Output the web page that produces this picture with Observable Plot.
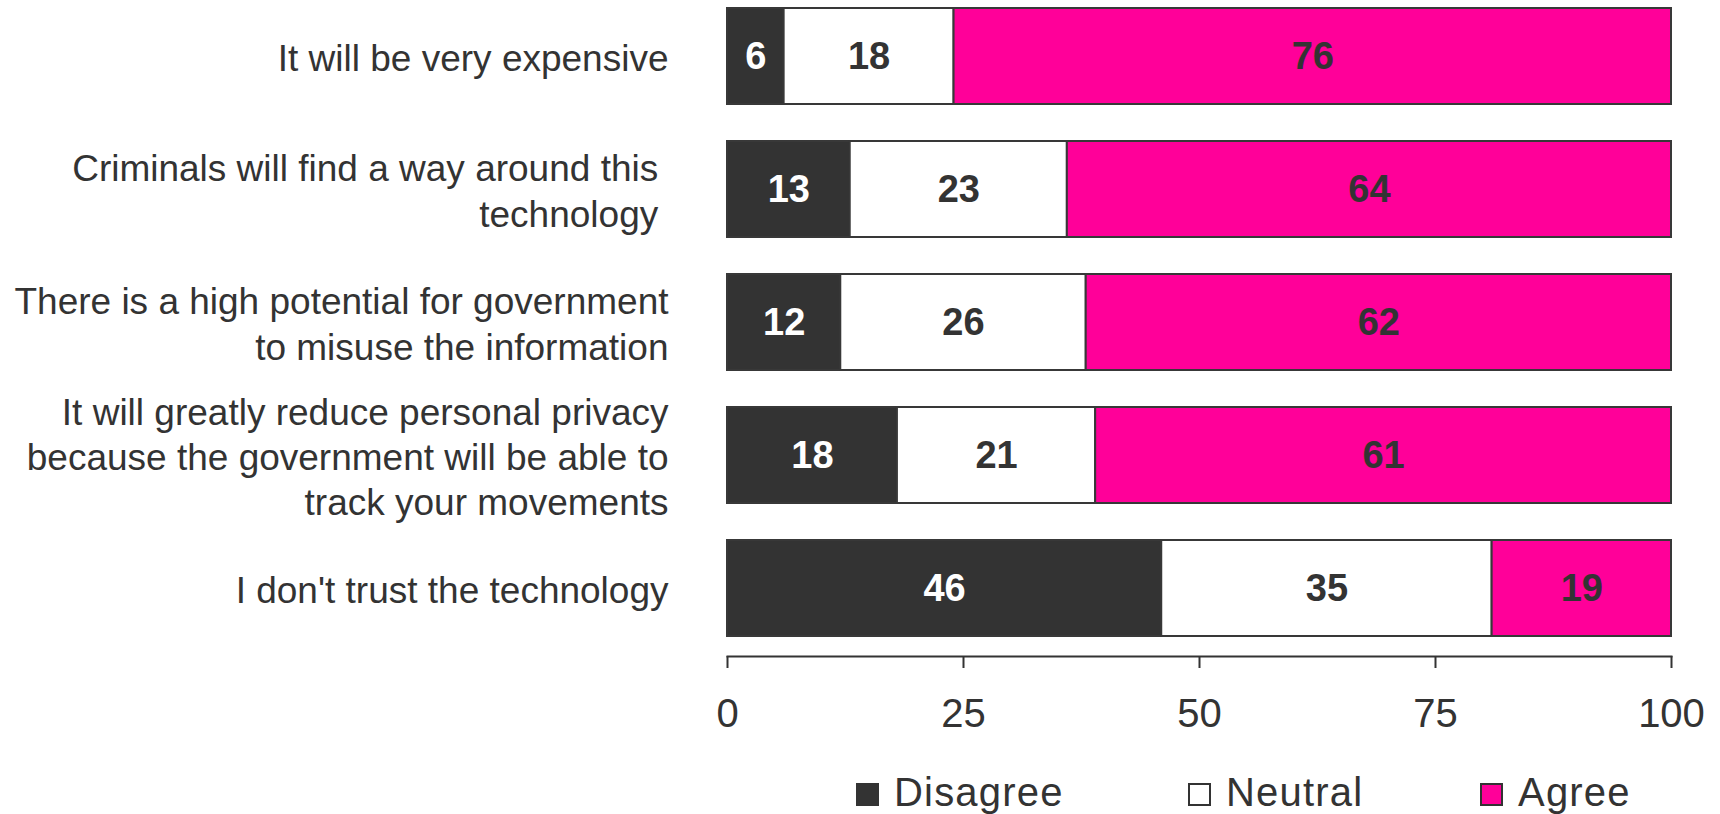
<!DOCTYPE html>
<html>
<head>
<meta charset="utf-8">
<script src="https://cdn.jsdelivr.net/npm/d3@7"></script>
<script src="https://cdn.jsdelivr.net/npm/@observablehq/plot@0.6"></script>
<style>
  html, body { margin: 0; padding: 0; background: #fff; }
  body { font-family: "Liberation Sans", Arial, sans-serif; color: #333; }
  #wrap { position: relative; width: 1720px; height: 814px; }
  #legend { position: absolute; left: 0; top: 770px; width: 1720px; height: 44px; }
  .item { position: absolute; top: 0; height: 44px; display: flex; align-items: center; font-size: 40px; letter-spacing: 1.2px; color: #333; }
  .sw { width: 23px; height: 23px; box-sizing: border-box; border: 2px solid #333; margin-right: 15px; margin-top: 4px; }
</style>
</head>
<body>
<div id="wrap">
  <div id="chart"></div>
  <div id="legend"></div>
</div>
<script>
const categories = [
  "It will be very expensive",
  "Criminals will find a way around this\u00a0\ntechnology\u00a0",
  "There is a high potential for government\nto misuse the information",
  "It will greatly reduce personal privacy\nbecause the government will be able to\ntrack your movements",
  "I don't trust the technology"
];
const responses = ["Disagree", "Neutral", "Agree"];
const disagree = [6, 13, 12, 18, 46];
const neutral  = [18, 23, 26, 21, 35];
const agree    = [76, 64, 62, 61, 19];
const colors = ["#333333", "#ffffff", "#ff0099"];
const xTicks = [0, 25, 50, 75, 100];
const legendLeft = [856, 1188, 1480];

const series = [disagree, neutral, agree];
const data = [];
categories.forEach((c, i) => {
  responses.forEach((r, j) => data.push({category: c, response: r, value: series[j][i]}));
});

const chart = Plot.plot({
  width: 1720,
  height: 770,
  marginLeft: 727,
  marginRight: 49,
  marginTop: 1,
  marginBottom: 114,
  style: {fontFamily: '"Liberation Sans", Arial, sans-serif', color: "#333", background: "white"},
  x: {domain: [0, 100]},
  y: {domain: categories, paddingInner: 0.275, paddingOuter: 0.098, align: 0.257},
  color: {domain: responses, range: colors},
  marks: [
    Plot.barX(data, Plot.stackX({x: "value", y: "category", fill: "response", z: "response", order: responses, stroke: "#383838", strokeWidth: 2})),
    Plot.text(data, Plot.stackX({x: "value", y: "category", z: "response", order: responses, text: d => String(d.value),
      fill: d => d.response === "Disagree" ? "#ffffff" : "#333333", fontSize: 38, fontWeight: "bold"})),
    Plot.frame({anchor: "bottom", stroke: "#333", strokeWidth: 2}),
    Plot.axisX({ticks: xTicks, tickSize: 12, tickPadding: 30, fontSize: 40, strokeWidth: 2, label: null, tickFormat: d => String(d)}),
    Plot.axisY({tickSize: 0, tickPadding: 59, fontSize: 37, lineHeight: 1.22, label: null, tickFormat: d => d})
  ]
});
document.getElementById("chart").appendChild(chart);

const legend = document.getElementById("legend");
responses.forEach((r, i) => {
  const it = document.createElement("div");
  it.className = "item";
  it.style.left = legendLeft[i] + "px";
  const sw = document.createElement("div");
  sw.className = "sw";
  sw.style.background = colors[i];
  it.appendChild(sw);
  const t = document.createElement("span");
  t.textContent = r;
  it.appendChild(t);
  legend.appendChild(it);
});
</script>
</body>
</html>
